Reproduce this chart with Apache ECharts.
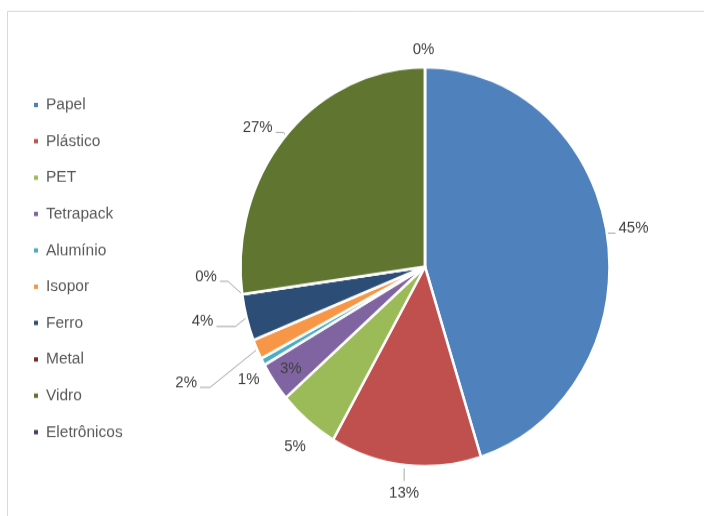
<!DOCTYPE html>
<html>
<head>
<meta charset="utf-8">
<script src="https://cdn.jsdelivr.net/npm/echarts@6/dist/echarts.min.js"></script>
<style>
  html, body { margin: 0; padding: 0; background: #fff; overflow: hidden; }
  #wrap { width: 704px; height: 516px; overflow: hidden; position: relative; }
  /* the chart is drawn slightly squashed and stretched back vertically */
  #chart { width: 704px; height: 477px; transform: scaleY(1.0818); transform-origin: 0 0; }
</style>
</head>
<body>
<div id="wrap"><div id="chart"></div></div>
<script>
// Composição dos resíduos (%)
const categories = ['Papel', 'Plástico', 'PET', 'Tetrapack', 'Alumínio', 'Isopor', 'Ferro', 'Metal', 'Vidro', 'Eletrônicos'];
const values = [45.1, 13.2, 5.3, 3.2, 0.6, 1.6, 3.8, 0, 27.2, 0];
const colors = ['#4F81BD', '#C0504D', '#9BBB59', '#8064A2', '#4BACC6', '#F79646', '#2C4D75', '#772C2A', '#5F7530', '#4D3B62'];

// Label placement, relative to the point where each slice's mid-angle meets the rim.
// dx/dy: offset of the label centre; h: horizontal leader segment; vertical: leader straight down.
const labelPlacement = [
  { dx: 26.2, dy: -7.3, h: 8 },
  { dx: -1.2, dy: 26.1, vertical: true },
  { dx: -12.8, dy: 23.6, line: false },
  { dx: 16.4, dy: -11.9, line: false },
  { dx: -14.1, dy: 16.8, line: false },
  { dx: -70.9, dy: 30.5, h: 10 },
  { dx: -44.0, dy: 3.7, h: 19 },
  { dx: -36.2, dy: -16.5, h: 8 },
  { dx: -28.2, dy: -7.6, h: 8 },
  { dx: -1.5, dy: -16.3, line: false }
];

const chart = echarts.init(document.getElementById('chart'), null, { renderer: 'canvas' });

const data = categories.map((name, i) => ({ name: name, value: values[i] }));

function placeLabel(params) {
  const pl = labelPlacement[params.dataIndex];
  const pts = params.labelLinePoints;
  if (!pl || !pts || !pts.length) return {};
  const a = pts[0];
  const x = a[0] + pl.dx;
  const y = a[1] + pl.dy;
  const w = params.labelRect.width;
  const hgt = params.labelRect.height;
  let line;
  if (pl.line === false) {
    line = [[a[0], a[1]], [a[0], a[1]], [a[0], a[1]]];
  } else if (pl.vertical) {
    line = [[x, a[1] + 3], [x, a[1] + 3], [x, y - hgt / 2 - 4]];
  } else if (pl.dx < 0) {
    const ex = x + w / 2 + 3, ey = y + 4.6;
    line = [[a[0], a[1]], [ex + pl.h, ey], [ex, ey]];
  } else {
    const ex = x - w / 2 - 3, ey = y + 4.6;
    line = [[a[0], a[1]], [ex - pl.h, ey], [ex, ey]];
  }
  return { x: x, y: y, align: 'center', verticalAlign: 'middle', labelLinePoints: line };
}

chart.setOption({
  animation: false,
  color: colors,
  graphic: [{
    type: 'polyline',
    shape: { points: [[7.5, 480], [7.5, 10.5], [710, 10.5]] },
    style: { stroke: '#d9d9d9', lineWidth: 1, fill: null },
    silent: true
  }],
  legend: {
    orient: 'vertical',
    left: 27,
    top: 84,
    itemWidth: 6,
    itemHeight: 6,
    itemGap: 17.6,
    icon: 'rect',
    textStyle: { fontFamily: 'Liberation Sans', fontSize: 15.5, color: '#595959', lineHeight: 14, padding: [0, 0, 0, 2] },
    data: categories
  },
  series: [{
    type: 'pie',
    center: [425, 246.5],
    radius: 184.5,
    startAngle: 90,
    clockwise: true,
    avoidLabelOverlap: false,
    itemStyle: { borderColor: '#fff', borderWidth: 2.5 },
    label: {
      show: true,
      position: 'outside',
      formatter: p => Math.round(p.value) + '%',
      fontFamily: 'Liberation Sans',
      fontSize: 15,
      color: '#404040'
    },
    labelLine: { show: true, length: 8, length2: 10, lineStyle: { color: '#a6a6a6', width: 1 } },
    labelLayout: placeLabel,
    emphasis: { disabled: true },
    data: data
  }]
});
</script>
</body>
</html>
